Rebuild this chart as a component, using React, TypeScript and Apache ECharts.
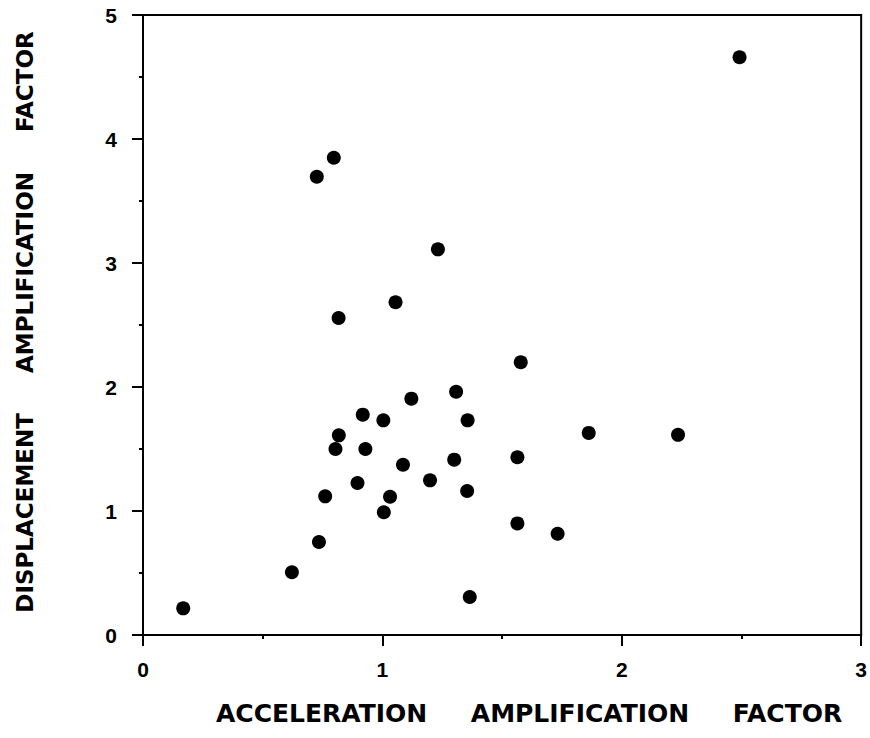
import React, { useEffect, useRef } from "react";
import * as echarts from "echarts";

const accelFactor = [
  0.168, 0.622, 0.735, 0.761, 0.804, 0.818, 0.918, 0.929, 0.896, 1.004, 1.006,
  1.032, 1.086, 1.121, 1.199, 1.308, 1.3, 1.356, 1.354, 1.365, 1.564, 1.564,
  1.732, 1.862, 2.235, 2.492, 1.578, 0.726, 0.797, 1.232, 1.055, 0.817,
];
const dispFactor = [
  0.215, 0.506, 0.75, 1.118, 1.5, 1.61, 1.777, 1.5, 1.226, 1.731, 0.99, 1.115,
  1.373, 1.906, 1.247, 1.962, 1.414, 1.731, 1.161, 0.306, 1.433, 0.9, 0.817,
  1.63, 1.614, 4.659, 2.2, 3.696, 3.849, 3.11, 2.683, 2.556,
];
const xTitle = "ACCELERATION     AMPLIFICATION     FACTOR";
const yTitle = "DISPLACEMENT     AMPLIFICATION     FACTOR";

export default function App() {
  const ref = useRef<HTMLDivElement>(null);
  useEffect(() => {
    if (!ref.current) return;
    const chart = echarts.init(ref.current, null, { renderer: "svg" });
    const labelFont = "'Liberation Sans', Arial, sans-serif";
    const titleFont = "'DejaVu Sans', sans-serif";
    const axisCommon = {
      axisLine: { show: true, lineStyle: { color: "#000", width: 2 } },
      axisTick: { show: true, length: 11, lineStyle: { color: "#000", width: 2 } },
      minorTick: { show: true, splitNumber: 2, length: 4, lineStyle: { color: "#000", width: 2 } },
      splitLine: { show: false },
    };
    const labelStyle = { color: "#000", fontSize: 21, fontWeight: "bold", fontFamily: labelFont };
    chart.setOption({
      animation: false,
      backgroundColor: "#fff",
      grid: {
        left: 143,
        top: 15,
        right: 7,
        bottom: 103,
        show: true,
        borderColor: "#000",
        borderWidth: 2,
        containLabel: false,
      },
      xAxis: {
        type: "value",
        min: 0,
        max: 3,
        interval: 1,
        ...axisCommon,
        axisLabel: { ...labelStyle, margin: 24 },
        name: xTitle,
        nameLocation: "middle",
        nameGap: 66,
        nameTextStyle: {
          color: "#000",
          fontSize: 25,
          fontWeight: "bold",
          fontFamily: titleFont,
          padding: [0, 0, 0, 54],
        },
      },
      yAxis: {
        type: "value",
        min: 0,
        max: 5,
        interval: 1,
        ...axisCommon,
        axisLabel: { ...labelStyle, margin: 26 },
        name: yTitle,
        nameLocation: "middle",
        nameRotate: 90,
        nameGap: 107,
        nameTextStyle: {
          color: "#000",
          fontSize: 23,
          fontWeight: "bold",
          fontFamily: titleFont,
          padding: [0, 0, 0, 6],
        },
      },
      series: [
        {
          type: "scatter",
          data: accelFactor.map((x, i) => [x, dispFactor[i]]),
          symbol: "circle",
          symbolSize: 14,
          itemStyle: { color: "#000", opacity: 1 },
        },
      ],
    });
    return () => chart.dispose();
  }, []);
  return (
    <div
      ref={ref}
      style={{ position: "fixed", left: 0, top: 0, width: 870, height: 738, background: "#fff" }}
    />
  );
}
